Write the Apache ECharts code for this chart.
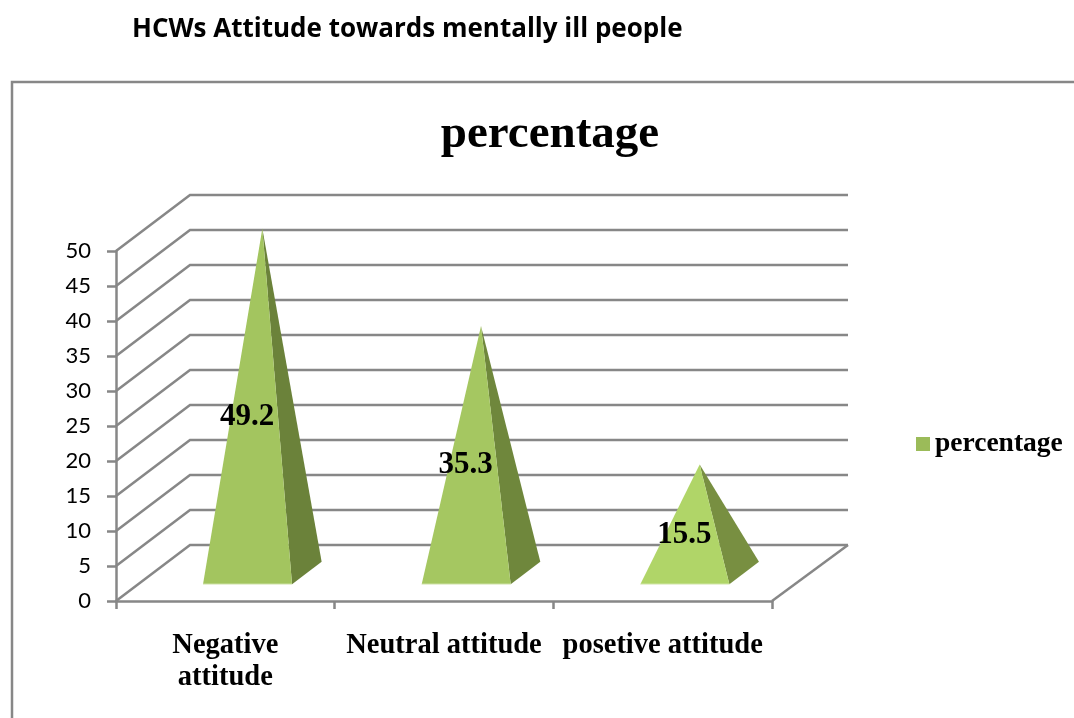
<!DOCTYPE html>
<html>
<head>
<meta charset="utf-8">
<style>html,body{margin:0;padding:0;background:#fff}#chart{width:1074px;height:718px}</style>
<script src="https://cdn.jsdelivr.net/npm/echarts@6/dist/echarts.min.js"></script>
</head>
<body>
<div id="chart"></div>
<script>
// Attitude categories and their percentages
const categories = ['Negative\nattitude', 'Neutral attitude', 'posetive attitude'];
const percentages = [49.2, 35.3, 15.5];
const yTicks = [0, 5, 10, 15, 20, 25, 30, 35, 40, 45, 50];
const seriesName = 'percentage';

// Face colours of each pyramid
const frontColors = ['#A3C55F', '#A5C761', '#B0D568'];
const sideColors = ['#6B823A', '#6F873C', '#788F41'];

// Oblique projection of the floor and the pyramid footprint
const WALL_DX = 74, WALL_DY = -56, WALL_RIGHT_EXTRA = 76;
const BASE_HALF = 44.5, BASE_FRONT = 0.30, BASE_BACK = 0.70, APEX_DEPTH = 0.50;
const GRAY = '#878787';
const LINE_WIDTH = 2.5;

const chart = echarts.init(document.getElementById('chart'));

function renderWall(params, api) {
  const v = api.value(0);
  const left = api.coord([0, v]);
  const size = api.size([1, 0]);
  const frontX = left[0] - size[0] / 2;
  const backX = frontX + size[0] * 3 + WALL_RIGHT_EXTRA;
  const y = left[1];
  const children = [{
    type: 'polyline',
    shape: { points: [[frontX, y], [frontX + WALL_DX, y + WALL_DY], [backX, y + WALL_DY]] },
    style: { fill: 'none', stroke: GRAY, lineWidth: LINE_WIDTH }
  }];
  if (v === 0) {
    const frontRight = frontX + size[0] * 3;
    children.push({
      type: 'line',
      shape: { x1: frontRight, y1: y, x2: backX, y2: y + WALL_DY },
      style: { stroke: GRAY, lineWidth: LINE_WIDTH }
    });
  }
  return { type: 'group', children };
}

function renderPyramid(params, api) {
  const i = api.value(0);
  const val = api.value(1);
  const base = api.coord([i, 0]);
  const top = api.coord([i, val]);
  const mid = api.coord([i, val / 2]);
  const cx = base[0], cy = base[1];
  const fl = [cx + WALL_DX * BASE_FRONT - BASE_HALF, cy + WALL_DY * BASE_FRONT];
  const fr = [cx + WALL_DX * BASE_FRONT + BASE_HALF, cy + WALL_DY * BASE_FRONT];
  const br = [cx + WALL_DX * BASE_BACK + BASE_HALF, cy + WALL_DY * BASE_BACK];
  const apex = [cx + WALL_DX * APEX_DEPTH, top[1] + WALL_DY * APEX_DEPTH];
  return {
    type: 'group',
    children: [
      { type: 'polygon', shape: { points: [fr, br, apex] }, style: { fill: sideColors[i] } },
      { type: 'polygon', shape: { points: [fl, fr, apex] }, style: { fill: frontColors[i] } },
      { type: 'line', shape: { x1: fl[0], y1: fl[1], x2: fr[0], y2: fr[1] },
        style: { stroke: '#E6F0CF', lineWidth: 1 } },
      { type: 'text', x: fr[0] - BASE_HALF - 0.5, y: mid[1] - 12,
        style: { text: String(val), align: 'center', verticalAlign: 'middle',
          font: 'bold 31px "Liberation Serif"', fill: '#000' } }
    ]
  };
}

chart.setOption({
  animation: false,
  backgroundColor: '#fff',
  title: [
    { text: 'HCWs Attitude towards mentally ill people', left: 132, top: 17, padding: 0,
      textStyle: { fontFamily: 'Open Sans', fontWeight: 'bold', fontSize: 26, color: '#000' } },
    { text: seriesName, left: 550, top: 111, padding: 0, textAlign: 'center',
      textStyle: { fontFamily: 'Liberation Serif', fontWeight: 'bold', fontSize: 47, color: '#000' } }
  ],
  legend: {
    data: [seriesName], left: 911, top: 425, icon: 'rect', itemWidth: 14, itemHeight: 14, itemGap: 0,
    textStyle: { fontFamily: 'Liberation Serif', fontWeight: 'bold', fontSize: 27.5, color: '#000', padding: [0, 0, 0, 0] }
  },
  grid: { left: 116, right: 302, top: 251, height: 350 },
  xAxis: {
    type: 'category', data: categories,
    axisLine: { show: true, lineStyle: { color: GRAY, width: LINE_WIDTH } },
    axisTick: { show: true, length: 8, lineStyle: { color: GRAY, width: LINE_WIDTH } },
    axisLabel: { interval: 0, margin: 29, lineHeight: 32,
      fontFamily: 'Liberation Serif', fontWeight: 'bold', fontSize: 28.5, color: '#000' }
  },
  yAxis: {
    type: 'value', min: 0, max: 50, interval: 5,
    splitLine: { show: false },
    axisLine: { show: true, lineStyle: { color: GRAY, width: LINE_WIDTH } },
    axisTick: { show: true, length: 9, lineStyle: { color: GRAY, width: LINE_WIDTH } },
    axisLabel: { margin: 25, fontFamily: 'Lato', fontSize: 22, color: '#000' }
  },
  series: [
    { type: 'custom', name: 'wall', silent: true, z: 1, renderItem: renderWall,
      encode: { y: 0 }, data: yTicks.map(t => [t]) },
    { type: 'custom', name: seriesName, z: 3, renderItem: renderPyramid,
      itemStyle: { color: '#9BBB59' }, encode: { x: 0, y: 1 },
      data: percentages.map((p, i) => [i, p]) }
  ],
  graphic: [
    { type: 'polyline', silent: true, z: 10,
      shape: { points: [[12, 718], [12, 82], [1074, 82]] },
      style: { fill: 'none', stroke: GRAY, lineWidth: LINE_WIDTH } }
  ]
});
</script>
</body>
</html>
